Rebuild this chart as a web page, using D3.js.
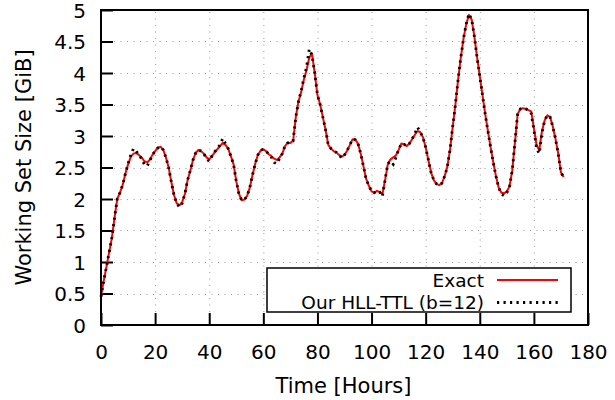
<!DOCTYPE html>
<html>
<head>
<meta charset="utf-8">
<script src="https://cdn.jsdelivr.net/npm/d3@7"></script>
<style>
  html, body { margin: 0; padding: 0; background: #fff; }
  svg { display: block; font-family: "DejaVu Sans", sans-serif; }
</style>
</head>
<body>
<svg id="chart" width="615" height="400"></svg>
<script>
// Working set size over time: exact count vs. HLL-TTL estimate (hourly samples)
const hours = d3.range(0, 172);

const exact = [
  0.45, 0.70, 0.92, 1.15, 1.38, 1.70, 2.00, 2.10, 2.22, 2.40,
  2.55, 2.67, 2.72, 2.73, 2.70, 2.66, 2.60, 2.58, 2.62, 2.70,
  2.76, 2.81, 2.83, 2.78, 2.66, 2.50, 2.27, 2.06, 1.93, 1.90,
  1.95, 2.08, 2.30, 2.45, 2.62, 2.73, 2.78, 2.76, 2.72, 2.66,
  2.63, 2.68, 2.74, 2.79, 2.84, 2.89, 2.86, 2.80, 2.68, 2.55,
  2.28, 2.08, 1.98, 1.99, 2.05, 2.18, 2.38, 2.56, 2.70, 2.77,
  2.79, 2.76, 2.71, 2.68, 2.64, 2.62, 2.66, 2.72, 2.84, 2.89,
  2.89, 2.92, 3.30, 3.55, 3.70, 3.90, 4.05, 4.25, 4.30, 4.00,
  3.65, 3.50, 3.30, 3.10, 2.86, 2.80, 2.76, 2.74, 2.70, 2.67,
  2.70, 2.77, 2.86, 2.95, 2.94, 2.88, 2.72, 2.52, 2.32, 2.21,
  2.12, 2.10, 2.13, 2.11, 2.08, 2.30, 2.55, 2.63, 2.66, 2.69,
  2.78, 2.88, 2.87, 2.84, 2.88, 2.95, 3.02, 3.08, 3.06, 2.98,
  2.82, 2.62, 2.42, 2.30, 2.24, 2.22, 2.25, 2.36, 2.51, 2.78,
  3.15, 3.50, 3.90, 4.25, 4.55, 4.78, 4.92, 4.85, 4.58, 4.25,
  3.95, 3.65, 3.35, 3.08, 2.82, 2.58, 2.36, 2.18, 2.10, 2.09,
  2.12, 2.20, 2.45, 2.90, 3.35, 3.43, 3.44, 3.43, 3.41, 3.39,
  3.12, 2.85, 2.78, 3.08, 3.25, 3.33, 3.30, 3.15, 2.95, 2.72,
  2.42, 2.35
];

const hllTtl = [
  0.45, 0.70, 0.92, 1.15, 1.38, 1.70, 2.00, 2.10, 2.22, 2.40,
  2.56, 2.70, 2.80, 2.76, 2.70, 2.64, 2.55, 2.52, 2.60, 2.70,
  2.76, 2.81, 2.83, 2.78, 2.66, 2.50, 2.27, 2.06, 1.93, 1.87,
  1.93, 2.08, 2.30, 2.45, 2.62, 2.73, 2.78, 2.76, 2.72, 2.64,
  2.60, 2.68, 2.75, 2.80, 2.86, 2.96, 2.88, 2.80, 2.68, 2.55,
  2.28, 2.08, 1.98, 1.99, 2.05, 2.18, 2.38, 2.56, 2.70, 2.77,
  2.79, 2.76, 2.71, 2.66, 2.58, 2.56, 2.64, 2.72, 2.84, 2.89,
  2.89, 2.92, 3.30, 3.55, 3.72, 3.92, 4.10, 4.38, 4.28, 4.00,
  3.65, 3.50, 3.30, 3.10, 2.86, 2.80, 2.76, 2.74, 2.70, 2.65,
  2.70, 2.77, 2.86, 2.95, 2.94, 2.88, 2.72, 2.52, 2.32, 2.21,
  2.12, 2.10, 2.13, 2.11, 2.04, 2.30, 2.56, 2.60, 2.55, 2.66,
  2.78, 2.88, 2.87, 2.84, 2.88, 2.95, 3.04, 3.14, 3.06, 2.98,
  2.82, 2.62, 2.42, 2.30, 2.24, 2.22, 2.25, 2.36, 2.51, 2.78,
  3.15, 3.50, 3.90, 4.25, 4.55, 4.78, 4.94, 4.85, 4.58, 4.25,
  3.95, 3.65, 3.35, 3.08, 2.82, 2.58, 2.36, 2.18, 2.08, 2.05,
  2.10, 2.20, 2.45, 2.90, 3.35, 3.43, 3.44, 3.43, 3.41, 3.36,
  3.10, 2.80, 2.72, 3.05, 3.25, 3.33, 3.30, 3.15, 2.95, 2.72,
  2.42, 2.35
];

const xTicks = [0, 20, 40, 60, 80, 100, 120, 140, 160, 180];
const yTicks = [0, 0.5, 1, 1.5, 2, 2.5, 3, 3.5, 4, 4.5, 5];
const seriesNames = ["Exact", "Our HLL-TTL (b=12)"];

const svg = d3.select("#chart");
const plotL = 101, plotR = 588, plotT = 10, plotB = 325;
const tickFont = 20, titleFont = 21, legendFont = 18.5;

const x = d3.scaleLinear().domain([0, 180]).range([plotL, plotR]);
const y = d3.scaleLinear().domain([0, 5]).range([plotB, plotT]);

// grid
const grid = svg.append("g")
  .attr("stroke", "#9a9a9a").attr("stroke-width", 1)
  .attr("stroke-dasharray", "1,5.5");
grid.selectAll(".gx").data(xTicks.slice(1, -1)).join("line")
  .attr("x1", d => x(d) + 0.5).attr("x2", d => x(d) + 0.5)
  .attr("y1", plotB).attr("y2", plotT);
grid.selectAll(".gy").data(yTicks.slice(1, -1)).join("line")
  .attr("x1", plotL).attr("x2", plotR)
  .attr("y1", d => Math.round(y(d)) + 0.5).attr("y2", d => Math.round(y(d)) + 0.5);

// axes with inward ticks
const xAxis = d3.axisBottom(x).tickValues(xTicks).tickSize(-12).tickPadding(24).tickFormat(d3.format("d"));
const yAxis = d3.axisLeft(y).tickValues(yTicks).tickSize(-12).tickPadding(15).tickFormat(d => String(d));

const gx = svg.append("g").attr("transform", `translate(0,${plotB})`).call(xAxis);
const gy = svg.append("g").attr("transform", `translate(${plotL},0)`).call(yAxis);
[gx, gy].forEach(g => {
  g.select(".domain").remove();
  g.selectAll(".tick line").attr("stroke", "#000").attr("stroke-width", 2);
  g.selectAll(".tick text").attr("fill", "#000")
    .attr("font-family", "DejaVu Sans").attr("font-size", tickFont);
});
gx.selectAll(".tick text").attr("dy", "0.35em").attr("y", 27);
gy.selectAll(".tick text").attr("dy", "0.36em");

// lines
const line = d3.line().x((d, i) => x(hours[i])).y(d => y(d));
svg.append("path").datum(exact)
  .attr("fill", "none").attr("stroke", "#ff0000").attr("stroke-width", 2)
  .attr("stroke-linejoin", "round").attr("d", line);
svg.append("path").datum(hllTtl)
  .attr("fill", "none").attr("stroke", "#000").attr("stroke-width", 2.8)
  .attr("stroke-dasharray", "2.2,4.3").attr("d", line);

// frame
svg.append("rect")
  .attr("x", plotL).attr("y", plotT).attr("width", plotR - plotL).attr("height", plotB - plotT)
  .attr("fill", "none").attr("stroke", "#000").attr("stroke-width", 2);

// legend
const lg = svg.append("g");
lg.append("rect")
  .attr("x", 267).attr("y", 268).attr("width", 304).attr("height", 44)
  .attr("fill", "#fff").attr("stroke", "#000").attr("stroke-width", 1.5);
const rows = [
  { name: seriesNames[0], cy: 280, color: "#ff0000", dash: null, w: 2 },
  { name: seriesNames[1], cy: 302.5, color: "#000", dash: "2.2,4.3", w: 2.8 }
];
rows.forEach(r => {
  lg.append("text").attr("x", 484).attr("y", r.cy).attr("dy", "0.36em")
    .attr("text-anchor", "end").attr("font-size", legendFont).attr("fill", "#000")
    .text(r.name);
  lg.append("line").attr("x1", 497).attr("x2", 558).attr("y1", r.cy).attr("y2", r.cy)
    .attr("stroke", r.color).attr("stroke-width", r.w)
    .attr("stroke-dasharray", r.dash);
});

// axis titles
svg.append("text").attr("x", (plotL + plotR) / 2 - 1).attr("y", 393)
  .attr("text-anchor", "middle").attr("font-size", titleFont).text("Time [Hours]");
svg.append("text")
  .attr("transform", `translate(31,${(plotT + plotB) / 2}) rotate(-90)`)
  .attr("text-anchor", "middle").attr("font-size", titleFont).text("Working Set Size [GiB]");
</script>
</body>
</html>
